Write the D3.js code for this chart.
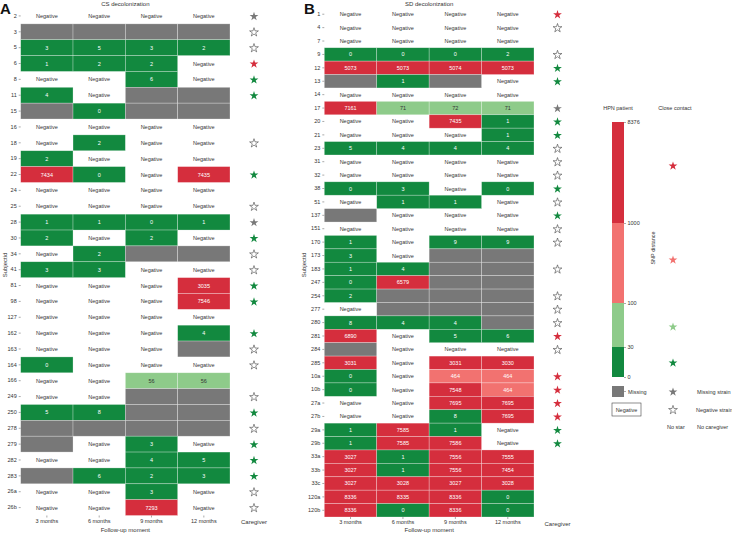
<!DOCTYPE html>
<html>
<head>
<meta charset="utf-8">
<script src="https://cdn.jsdelivr.net/npm/d3@7"></script>
<style>
  body { margin: 0; background: #fff; }
  svg { font-family: "Liberation Sans", Arial, sans-serif; }
  .tick text { font-size: 5.5px; fill: #333; }
</style>
</head>
<body>
<div id="chart"></div>
<script>
// Follow-up moments (columns)
const followUp = ['3 months', '6 months', '9 months', '12 months'];

// 'neg' = Negative, null = missing, numbers = SNP distance
const idsA = ['2','3','5','6','8','11','15','16','18','19','22','24','25','28','30','34','41','81','98','127','162','163','164','166','249','250','278','279','282','283','26a','26b'];
const cellsA = [
  ['neg','neg','neg','neg'],
  [null,null,null,null],
  [3,5,3,2],
  [1,2,2,'neg'],
  ['neg','neg',6,'neg'],
  [4,'neg',null,null],
  [null,0,null,null],
  ['neg','neg','neg','neg'],
  ['neg',2,'neg','neg'],
  [2,'neg','neg','neg'],
  [7434,0,'neg',7435],
  ['neg','neg','neg','neg'],
  ['neg','neg','neg','neg'],
  [1,1,0,1],
  [2,'neg',2,'neg'],
  ['neg',2,null,null],
  [3,3,'neg','neg'],
  ['neg','neg','neg',3035],
  ['neg','neg','neg',7546],
  ['neg','neg','neg','neg'],
  ['neg','neg','neg',4],
  ['neg','neg','neg',null],
  [0,'neg','neg','neg'],
  ['neg','neg',56,56],
  ['neg','neg',null,null],
  [5,8,null,null],
  [null,null,null,null],
  [null,'neg',3,'neg'],
  ['neg','neg',4,5],
  [null,6,2,3],
  ['neg','neg',3,'neg'],
  ['neg','neg',7293,'neg']
];
// caregiver star: 'missing', 'neg', 'none', 'low' (0-30), 'high' (>1000)
const careA = ['missing','neg','neg','high','low','low','none','none','neg','none','low','none','neg','missing','low','neg','neg','low','low','none','low','neg','neg','none','neg','low','neg','low','low','low','neg','neg'];

const idsB = ['1','4','7','9','12','13','14','17','20','21','23','31','32','38','51','137','151','170','173','183','247','254','277','280','281','284','285','10a','10b','27a','27b','29a','29b','33a','33b','33c','120a','120b'];
const cellsB = [
  ['neg','neg','neg','neg'],
  ['neg','neg','neg','neg'],
  ['neg','neg','neg','neg'],
  [0,0,0,2],
  [5073,5073,5074,5073],
  [null,1,null,'neg'],
  ['neg','neg','neg','neg'],
  [7161,71,72,71],
  ['neg','neg',7435,1],
  ['neg','neg','neg',1],
  [5,4,4,4],
  ['neg','neg','neg','neg'],
  ['neg','neg','neg','neg'],
  [0,3,'neg',0],
  ['neg',1,1,'neg'],
  [null,'neg','neg','neg'],
  ['neg','neg','neg','neg'],
  [1,'neg',9,9],
  [3,'neg',null,null],
  [1,4,null,null],
  [0,6579,null,null],
  [2,null,null,null],
  ['neg',null,null,null],
  [8,4,4,null],
  [6890,'neg',5,6],
  [null,'neg','neg','neg'],
  [3031,'neg',3031,3030],
  [0,'neg',464,464],
  [0,'neg',7548,464],
  ['neg','neg',7695,7695],
  ['neg','neg',8,7695],
  [1,7585,1,'neg'],
  [1,7585,7586,'neg'],
  [3027,1,7556,7555],
  [3027,1,7556,7454],
  [3027,3028,3027,3028],
  [8336,8335,8336,0],
  [8336,0,8336,0]
];
const careB = ['high','neg','none','neg','low','low','none','missing','low','low','neg','neg','neg','low','neg','low','neg','neg','none','neg','none','neg','neg','neg','high','neg','none','high','high','high','high','low','low','none','none','none','none','none'];

// Legend colorbar breaks
const snpBreaks = [0, 30, 100, 1000, 8376];

const C = {
  dark: '#12893f', light: '#8ecb8a', pink: '#f27270', red: '#d52e3d',
  grey: '#787878', text: '#333'
};
const snpColor = d3.scaleThreshold().domain([30, 100, 1000]).range([C.dark, C.light, C.pink, C.red]);
const starColor = { missing: C.grey, low: C.dark, high: C.red };

const W = 732, H = 534;
const svg = d3.select('#chart').append('svg').attr('width', W).attr('height', H);
const star = d3.symbol().type(d3.symbolStar).size(24);

function drawPanel(cfg) {
  const g = svg.append('g');
  const x = d3.scaleBand().domain(followUp).range([cfg.x0, cfg.x1]);
  const y = d3.scaleBand().domain(cfg.ids).range([cfg.y0, cfg.y1]);

  const cells = [];
  cfg.cells.forEach((row, i) => row.forEach((v, j) => cells.push({ id: cfg.ids[i], m: followUp[j], v })));

  g.selectAll('rect.cell').data(cells.filter(d => d.v !== 'neg')).enter().append('rect')
    .attr('x', d => x(d.m)).attr('y', d => y(d.id))
    .attr('width', x.bandwidth()).attr('height', y.bandwidth())
    .attr('fill', d => d.v === null ? C.grey : snpColor(d.v))
    .attr('stroke', 'rgba(255,255,255,0.45)').attr('stroke-width', 0.6);

  g.selectAll('text.cell').data(cells.filter(d => d.v !== null)).enter().append('text')
    .attr('x', d => x(d.m) + x.bandwidth() / 2).attr('y', d => y(d.id) + y.bandwidth() / 2)
    .attr('text-anchor', 'middle').attr('dominant-baseline', 'central')
    .attr('font-size', 5.5)
    .attr('fill', d => d.v === 'neg' ? C.text : (d.v > 30 && d.v <= 100 ? '#333' : '#fff'))
    .text(d => d.v === 'neg' ? 'Negative' : d.v);

  // caregiver stars
  g.selectAll('path.care').data(cfg.care.map((c, i) => ({ c, id: cfg.ids[i] })).filter(d => d.c !== 'none'))
    .enter().append('path')
    .attr('d', star)
    .attr('transform', d => `translate(${cfg.sx},${y(d.id) + y.bandwidth() / 2 + 0.5})`)
    .attr('fill', d => d.c === 'neg' ? '#fff' : starColor[d.c])
    .attr('stroke', d => d.c === 'neg' ? '#444' : 'none')
    .attr('stroke-width', 0.6);

  // axes
  const ya = g.append('g').attr('transform', `translate(${cfg.x0},0)`)
    .call(d3.axisLeft(y).tickSize(2).tickPadding(2));
  ya.select('.domain').remove();
  ya.selectAll('.tick line').attr('stroke', '#555').attr('stroke-width', 0.5);

  const xa = g.append('g').attr('transform', `translate(0,${cfg.y1})`)
    .call(d3.axisBottom(x).tickSize(2).tickPadding(1.5));
  xa.select('.domain').remove();
  xa.selectAll('.tick line').attr('stroke', '#555').attr('stroke-width', 0.5);
  xa.selectAll('.tick text').attr('font-size', 6);

  g.append('text').attr('x', cfg.sx).attr('y', cfg.y1 + 8.5)
    .attr('text-anchor', 'middle').attr('font-size', 6).attr('fill', C.text).text('Caregiver');
  g.append('text').attr('x', (cfg.x0 + cfg.x1) / 2).attr('y', 532)
    .attr('text-anchor', 'middle').attr('font-size', 6).attr('fill', C.text).text('Follow-up moment');
  g.append('text').attr('x', (cfg.x0 + cfg.x1) / 2).attr('y', 6)
    .attr('text-anchor', 'middle').attr('font-size', 6).attr('fill', C.text).text(cfg.title);
  g.append('text').attr('transform', `translate(${cfg.lx},265) rotate(-90)`)
    .attr('text-anchor', 'middle').attr('font-size', 6).attr('fill', C.text).text('Subjectid');
  g.append('text').attr('x', cfg.px).attr('y', 14)
    .attr('font-size', 15).attr('font-weight', 'bold').attr('fill', '#111').text(cfg.letter);
}

drawPanel({ ids: idsA, cells: cellsA, care: careA, x0: 20.7, x1: 230, y0: 8, y1: 515.5, sx: 254,
  title: 'CS decolonization', lx: 7, px: 0, letter: 'A' });
drawPanel({ ids: idsB, cells: cellsB, care: careB, x0: 324.3, x1: 534, y0: 7.5, y1: 517, sx: 557.5,
  title: 'SD decolonization', lx: 306, px: 304, letter: 'B' });

// ---- legend ----
const lg = svg.append('g');
const cb = d3.scaleLinear().domain(snpBreaks).range([377, 347, 303, 223, 122]);
const segs = d3.pairs(snpBreaks);
lg.selectAll('rect.seg').data(segs).enter().append('rect')
  .attr('x', 612).attr('width', 12)
  .attr('y', d => cb(d[1])).attr('height', d => cb(d[0]) - cb(d[1]))
  .attr('fill', d => snpColor(d[0]));
const cba = lg.append('g').attr('transform', 'translate(624,0)')
  .call(d3.axisRight(cb).tickValues(snpBreaks).tickFormat(d3.format('d')).tickSize(2).tickPadding(1.5));
cba.select('.domain').remove();
cba.selectAll('.tick line').attr('stroke', '#555').attr('stroke-width', 0.5);

lg.append('text').attr('x', 618).attr('y', 110).attr('text-anchor', 'middle')
  .attr('font-size', 5.5).attr('fill', C.text).text('HPN patient');
lg.append('text').attr('x', 675).attr('y', 110).attr('text-anchor', 'middle')
  .attr('font-size', 5.5).attr('fill', C.text).text('Close contact');
lg.append('text').attr('transform', 'translate(655,248) rotate(-90)').attr('text-anchor', 'middle')
  .attr('font-size', 5.5).attr('fill', C.text).text('SNP distance');

// close-contact stars by SNP category
const ccStars = [{ v: 5000, y: 166 }, { v: 500, y: 260 }, { v: 50, y: 327 }, { v: 10, y: 363 }];
lg.selectAll('path.cc').data(ccStars).enter().append('path')
  .attr('d', star).attr('transform', d => `translate(673,${d.y})`)
  .attr('fill', d => snpColor(d.v));

lg.append('rect').attr('x', 612).attr('y', 386).attr('width', 12).attr('height', 11).attr('fill', C.grey);
lg.append('line').attr('x1', 624).attr('x2', 626).attr('y1', 391.5).attr('y2', 391.5).attr('stroke', '#555').attr('stroke-width', 0.5);
lg.append('text').attr('x', 628).attr('y', 393.5).attr('font-size', 5.5).attr('fill', C.text).text('Missing');
lg.append('rect').attr('x', 612).attr('y', 403).attr('width', 29).attr('height', 13)
  .attr('fill', '#fff').attr('stroke', '#444').attr('stroke-width', 0.6);
lg.append('text').attr('x', 626.5).attr('y', 411.5).attr('text-anchor', 'middle').attr('font-size', 5.5).attr('fill', C.text).text('Negative');

lg.append('path').attr('d', star).attr('transform', 'translate(673,392)').attr('fill', C.grey);
lg.append('text').attr('x', 697).attr('y', 394).attr('font-size', 5.5).attr('fill', C.text).text('Missing strain');
lg.append('path').attr('d', star).attr('transform', 'translate(673,410)').attr('fill', '#fff').attr('stroke', '#444').attr('stroke-width', 0.6);
lg.append('text').attr('x', 696).attr('y', 412).attr('font-size', 5.5).attr('fill', C.text).text('Negative strain');
lg.append('text').attr('x', 667).attr('y', 429).attr('font-size', 5.5).attr('fill', C.text).text('No star');
lg.append('text').attr('x', 697).attr('y', 429).attr('font-size', 5.5).attr('fill', C.text).text('No caregiver');
</script>
</body>
</html>
